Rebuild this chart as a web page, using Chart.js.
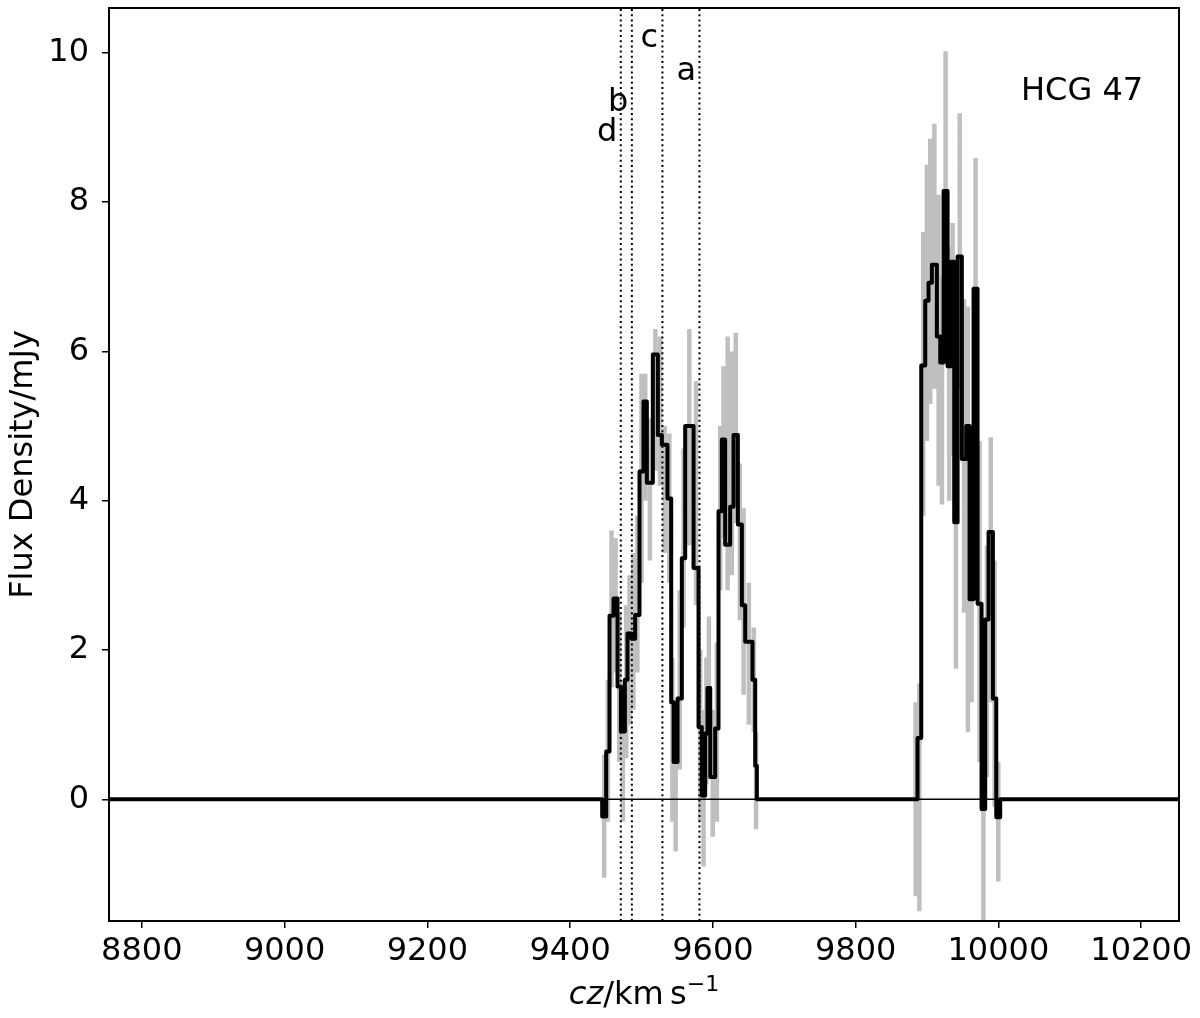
<!DOCTYPE html>
<html>
<head>
<meta charset="utf-8">
<script src="https://cdn.jsdelivr.net/npm/chart.js@4.4.0/dist/chart.umd.min.js"></script>
<style>
  html, body { margin: 0; padding: 0; background: #fff; }
</style>
</head>
<body>
<canvas id="spec" width="1200" height="1018"></canvas>
<script>
// HCG 47 spectrum
const xRange = [8754, 10253];
const yRange = [-1.63, 10.6];
const xTicks = [8800, 9000, 9200, 9400, 9600, 9800, 10000, 10200];
const yTicks = [0, 2, 4, 6, 8, 10];

// left edge of each channel (km/s) and its flux (mJy)
const chanEdge = [8754,
  9444.9, 9450.5, 9455.2, 9460.8, 9466.4, 9471.1, 9476.7, 9480.4, 9486, 9491.1,
  9497.2, 9502.8, 9507.5, 9515.9, 9522.9, 9528.5, 9536.4, 9541.6, 9545, 9550.5,
  9556.5, 9561.2, 9572.9, 9579.9, 9584.5, 9589.2, 9592.5, 9596.3, 9603.2, 9607.9,
  9612.6, 9617.2, 9624.2, 9628.9, 9635, 9640.6, 9645.3, 9655.5, 9659.3, 9661.6,
  9886.7, 9891.9, 9897.5, 9902.1, 9906.8, 9913.8, 9918.5, 9923.2, 9928.8, 9933.4,
  9938.1, 9942.8, 9948.8, 9954.9, 9959.6, 9965.2, 9970.8, 9976.4, 9981.5, 9986.2,
  9992.3, 9997, 10002.5, 10253];
const chanFlux = [0,
  -0.23, 0.64, 2.46, 2.69, 1.51, 0.91, 1.6, 2.22, 2.15, 2.47,
  4.39, 5.33, 4.24, 5.96, 4.88, 4.75, 4.03, 1.3, 0.5, 1.35,
  3.23, 5.0, 3.1, 0.97, 0.05, 0.88, 1.49, 0.3, 0.95, 3.86,
  4.82, 3.41, 3.92, 4.88, 3.68, 2.6, 2.11, 1.6, 0.45, 0,
  0.82, 5.81, 6.68, 6.92, 7.16, 6.2, 5.85, 8.15, 5.8, 7.2,
  3.71, 7.27, 4.56, 5.0, 2.68, 6.84, 2.62, -0.13, 2.41, 3.58,
  1.35, -0.24, 0, 0];

// grey error bars: velocity, lower and upper end (mJy)
const errX = [9447.7, 9452.9, 9458, 9463.6, 9468.8, 9473.9, 9478.6, 9483.2, 9488.6, 9494.2,
  9500, 9505.2, 9511.7, 9519.4, 9526, 9532.5, 9539, 9543.3, 9547.8, 9553.5,
  9558.9, 9567, 9576.4, 9582.2, 9586.9, 9590.9, 9594.4, 9599.8, 9605.6, 9610.3,
  9614.9, 9620.7, 9626.6, 9632, 9637.8, 9643, 9650.4, 9657.4, 9660.5,
  9884, 9889.3, 9894.7, 9899.8, 9904.5, 9910.3, 9916.2, 9920.9, 9926, 9931.1,
  9935.8, 9940.5, 9945.8, 9951.9, 9957.3, 9962.4, 9968, 9973.6, 9979, 9983.9,
  9989.3, 9994.7, 9999.8];
const errLo = [-1.05, -0.3, 1.5, 1.7, 0.5, -0.3, 0.55, 1.0, 1.2, 1.7,
  2.9, 4.0, 3.2, 4.4, 4.2, 3.3, 2.9, -0.3, -0.7, 0.4,
  2.3, 3.4, 2.6, -0.3, -0.9, 0.2, 1.0, -0.5, -0.3, 2.8,
  3.5, 2.8, 3.0, 3.7, 2.4, 1.4, 1.0, 0.9, -0.4,
  -1.3, -1.5, 3.8, 4.8, 5.3, 5.5, 4.2, 3.95, 6.0, 4.0,
  4.6, 1.75, 5.5, 2.5, 0.9, 1.3, 4.6, 0.5, -1.7, 0.3,
  1.3, -0.1, -1.1];
const errHi = [0.6, 1.6, 3.6, 3.5, 2.5, 1.6, 2.6, 3.0, 3.3, 3.8,
  5.7, 5.7, 5.1, 6.3, 6.2, 5.0, 4.9, 1.9, 1.2, 2.8,
  4.7, 6.3, 5.6, 2.0, 1.2, 1.9, 2.45, 1.2, 2.1, 5.0,
  5.8, 6.2, 6.0, 6.25, 4.5, 3.9, 2.9, 2.3, 0.9,
  1.3, 1.55, 7.6, 8.5, 8.85, 9.05, 8.1, 7.0, 10.02, 7.4,
  7.72, 5.5, 9.19, 6.7, 6.6, 4.6, 8.59, 4.8, 1.6, 3.4,
  4.85, 3.2, 0.5];

// dotted marker lines and their letters
const markVel = [9471, 9486.5, 9529.3, 9581.2];
const markName = ['d', 'b', 'c', 'a'];
const markTextX = [9451.9, 9467.3, 9510.8, 9562.7];
const markTextY = [8.82, 9.22, 10.08, 9.64];

const FONT = 'DejaVu Sans';

const stepData = chanEdge.map((x, i) => ({ x: x, y: chanFlux[i] }));
const errData = [];
errX.forEach((x, i) => {
  errData.push({ x: x, y: errLo[i] }, { x: x, y: errHi[i] }, { x: x, y: null });
});
const markData = [];
markVel.forEach(v => {
  markData.push({ x: v, y: yRange[0] }, { x: v, y: yRange[1] }, { x: v, y: null });
});

const textPlugin = {
  id: 'texts',
  afterDraw(chart) {
    const ctx = chart.ctx;
    const a = chart.chartArea;
    const xs = chart.scales.x, ys = chart.scales.y;
    ctx.save();
    // frame
    ctx.strokeStyle = '#000';
    ctx.lineWidth = 2;
    ctx.strokeRect(a.left, a.top, a.right - a.left, a.bottom - a.top);

    ctx.fillStyle = '#000';
    ctx.font = '32px "' + FONT + '"';
    ctx.textBaseline = 'alphabetic';
    ctx.textAlign = 'center';
    markName.forEach((t, i) => {
      ctx.fillText(t, xs.getPixelForValue(markTextX[i]), ys.getPixelForValue(markTextY[i]));
    });

    ctx.textAlign = 'left';
    ctx.fillText('HCG 47', a.left + 912, a.top + 92);

    // y title
    ctx.save();
    ctx.translate(24, (a.top + a.bottom) / 2);
    ctx.rotate(-Math.PI / 2);
    ctx.textAlign = 'center';
    ctx.textBaseline = 'middle';
    ctx.fillText('Flux Density/mJy', 0, 0);
    ctx.restore();

    // x title: cz/km s^-1
    const it = 'italic 32px "' + FONT + '"';
    const rm = '32px "' + FONT + '"';
    const sup = '22px "' + FONT + '"';
    const parts = [[it, 'cz', 0], [rm, '/km', 0], [rm, '\u2009s', 0], [sup, '\u22121', -13]];
    let w = 0;
    parts.forEach(p => { ctx.font = p[0]; w += ctx.measureText(p[1]).width; });
    let x = (a.left + a.right) / 2 - w / 2;
    const base = 1004;
    ctx.textAlign = 'left';
    parts.forEach(p => {
      ctx.font = p[0];
      ctx.fillText(p[1], x, base + p[2]);
      x += ctx.measureText(p[1]).width;
    });
    ctx.restore();
  }
};

new Chart(document.getElementById('spec'), {
  type: 'line',
  data: {
    datasets: [
      {
        data: stepData,
        stepped: true,
        borderColor: '#000',
        borderWidth: 4,
        borderJoinStyle: 'round',
        borderCapStyle: 'round',
        pointRadius: 0,
        order: 0
      },
      {
        data: markData,
        borderColor: '#000',
        borderWidth: 2,
        borderDash: [2, 3.2],
        pointRadius: 0,
        spanGaps: false,
        clip: 0,
        order: 1
      },
      {
        data: [{ x: xRange[0], y: 0 }, { x: xRange[1], y: 0 }],
        borderColor: '#000',
        borderWidth: 1.5,
        pointRadius: 0,
        order: 2
      },
      {
        data: errData,
        borderColor: '#bfbfbf',
        borderWidth: 4.5,
        borderCapStyle: 'butt',
        pointRadius: 0,
        spanGaps: false,
        clip: 0,
        order: 3
      }
    ]
  },
  options: {
    responsive: false,
    animation: false,
    events: [],
    layout: { padding: { left: 0, top: 8, right: 21, bottom: 0 } },
    plugins: { legend: { display: false }, tooltip: { enabled: false } },
    scales: {
      x: {
        type: 'linear',
        min: xRange[0],
        max: xRange[1],
        afterBuildTicks: s => { s.ticks = xTicks.map(v => ({ value: v })); },
        afterFit: s => { s.height = 97; s.paddingLeft = 0; s.paddingRight = 0; },
        grid: { drawOnChartArea: false, drawTicks: true, tickLength: 7, color: '#000', lineWidth: 1.5 },
        border: { display: false },
        ticks: { color: '#000', padding: 4, maxRotation: 0, autoSkip: false, font: { family: FONT, size: 32 },
          callback: v => String(v) }
      },
      y: {
        type: 'linear',
        min: yRange[0],
        max: yRange[1],
        afterBuildTicks: s => { s.ticks = yTicks.map(v => ({ value: v })); },
        afterFit: s => { s.width = 109; s.paddingTop = 0; s.paddingBottom = 0; },
        grid: { drawOnChartArea: false, drawTicks: true, tickLength: 7, color: '#000', lineWidth: 1.5 },
        border: { display: false },
        ticks: { color: '#000', padding: 13, font: { family: FONT, size: 32 }, callback: v => String(v) }
      }
    }
  },
  plugins: [textPlugin]
});
</script>
</body>
</html>
